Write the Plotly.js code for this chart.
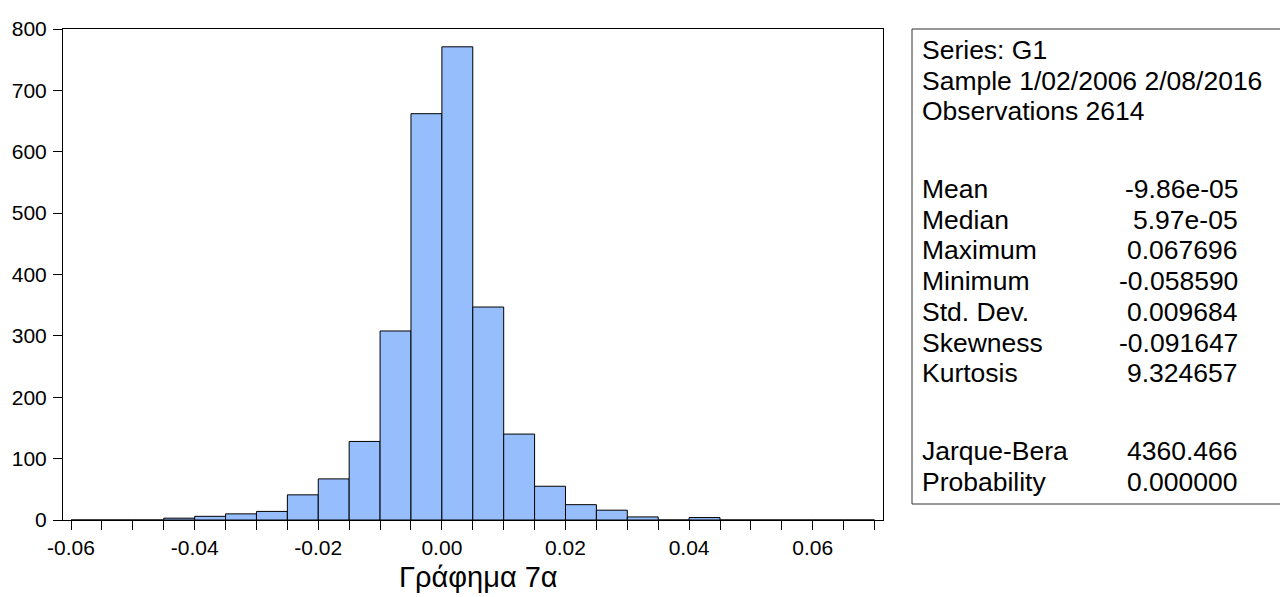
<!DOCTYPE html>
<html>
<head>
<meta charset="utf-8">
<script src="https://cdn.plot.ly/plotly-3.0.1.min.js"></script>
<style>
html,body{margin:0;padding:0;background:#fff;}
#chart{width:1280px;height:597px;}
</style>
</head>
<body>
<div id="chart"></div>
<script>
// Histogram bins (left edges) and counts
const binStart = [-0.060,-0.055,-0.050,-0.045,-0.040,-0.035,-0.030,-0.025,-0.020,-0.015,-0.010,-0.005,
                  0.000,0.005,0.010,0.015,0.020,0.025,0.030,0.035,0.040,0.045,0.050,0.055,0.060,0.065];
const counts   = [0,0,0,3,6,10,14,41,67,128,308,662,
                  771,347,140,55,25,16,5,0,4,0,0,0,0,0];
const binWidth = 0.005;

// Axis tick labels
const xTickVals = [-0.06,-0.04,-0.02,0.00,0.02,0.04,0.06];
const xTickText = ["-0.06","-0.04","-0.02","0.00","0.02","0.04","0.06"];
const yTickVals = [0,100,200,300,400,500,600,700,800];
const yTickText = ["0","100","200","300","400","500","600","700","800"];

// Statistics panel
const statHeader = ["Series: G1","Sample 1/02/2006 2/08/2016","Observations 2614"];
const statLabels = ["Mean","Median","Maximum","Minimum","Std. Dev.","Skewness","Kurtosis","Jarque-Bera","Probability"];
const statValues = ["-9.86e-05","5.97e-05","0.067696","-0.058590","0.009684","-0.091647","9.324657","4360.466","0.000000"];
const chartTitle = "Γράφημα 7α";

// Layout geometry (pixels)
const L = 63, R = 883, T = 29, B = 520, W = 1280, H = 597;
const pw = R - L, ph = B - T;
const px2x = p => (p - L) / pw;
const px2y = p => (B - p) / ph;

const FONT = "Liberation Sans, Arial, sans-serif";
const STAT_SIZE = 26.5;

const headerY = [50, 80.5, 111];
const rowY = [189, 219.5, 250, 281, 312, 342.5, 373, 451, 482];

const annotations = [];
statHeader.forEach((t, i) => {
  annotations.push({xref:'paper', yref:'paper', x:px2x(920), y:px2y(headerY[i]), xanchor:'left', yanchor:'middle',
    text:t, showarrow:false, font:{family:FONT, size:STAT_SIZE, color:'#000'}});
});
statLabels.forEach((t, i) => {
  annotations.push({xref:'paper', yref:'paper', x:px2x(920), y:px2y(rowY[i]), xanchor:'left', yanchor:'middle',
    text:t, showarrow:false, font:{family:FONT, size:STAT_SIZE, color:'#000'}});
  annotations.push({xref:'paper', yref:'paper', x:px2x(1240), y:px2y(rowY[i]), xanchor:'right', yanchor:'middle',
    text:statValues[i], showarrow:false, font:{family:FONT, size:STAT_SIZE, color:'#000'}});
});
annotations.push({xref:'paper', yref:'paper', x:px2x(478), y:px2y(577), xanchor:'center', yanchor:'middle',
  text:chartTitle, showarrow:false, font:{family:FONT, size:29, color:'#000'}});

const trace = {
  type:'bar',
  x: binStart,
  y: counts,
  width: binWidth,
  offset: 0,
  marker:{color:'#97BEFC', line:{color:'#000', width:1}},
  hoverinfo:'x+y'
};

const layout = {
  width: W, height: H,
  margin:{l:L, r:W-R, t:T, b:H-B, pad:0},
  paper_bgcolor:'#fff', plot_bgcolor:'#fff',
  showlegend:false,
  bargap:0,
  font:{family:FONT, size:21, color:'#000'},
  xaxis:{
    range:[-0.0613, 0.07137],
    tickmode:'array', tickvals:xTickVals, ticktext:xTickText,
    ticks:'outside', ticklen:9, tickwidth:1, tickcolor:'#000',
    minor:{dtick:0.005, tick0:0, ticks:'outside', ticklen:9, tickwidth:1, tickcolor:'#000'},
    showgrid:false, zeroline:false,
    showline:true, linecolor:'#000', linewidth:1, mirror:true,
    tickfont:{family:FONT, size:21, color:'#000'}
  },
  yaxis:{
    range:[0, 800],
    tickmode:'array', tickvals:yTickVals, ticktext:yTickText,
    ticks:'outside', ticklen:9, tickwidth:1, tickcolor:'#000',
    ticklabelstandoff:2,
    showgrid:false, zeroline:false,
    showline:true, linecolor:'#000', linewidth:1, mirror:true,
    tickfont:{family:FONT, size:21, color:'#000'}
  },
  shapes:[{type:'rect', xref:'paper', yref:'paper',
    x0:px2x(912), x1:px2x(1290), y0:px2y(504), y1:px2y(29),
    line:{color:'#333', width:1}, fillcolor:'rgba(0,0,0,0)'}],
  annotations: annotations
};

Plotly.newPlot('chart', [trace], layout, {displayModeBar:false, staticPlot:true});
</script>
</body>
</html>
